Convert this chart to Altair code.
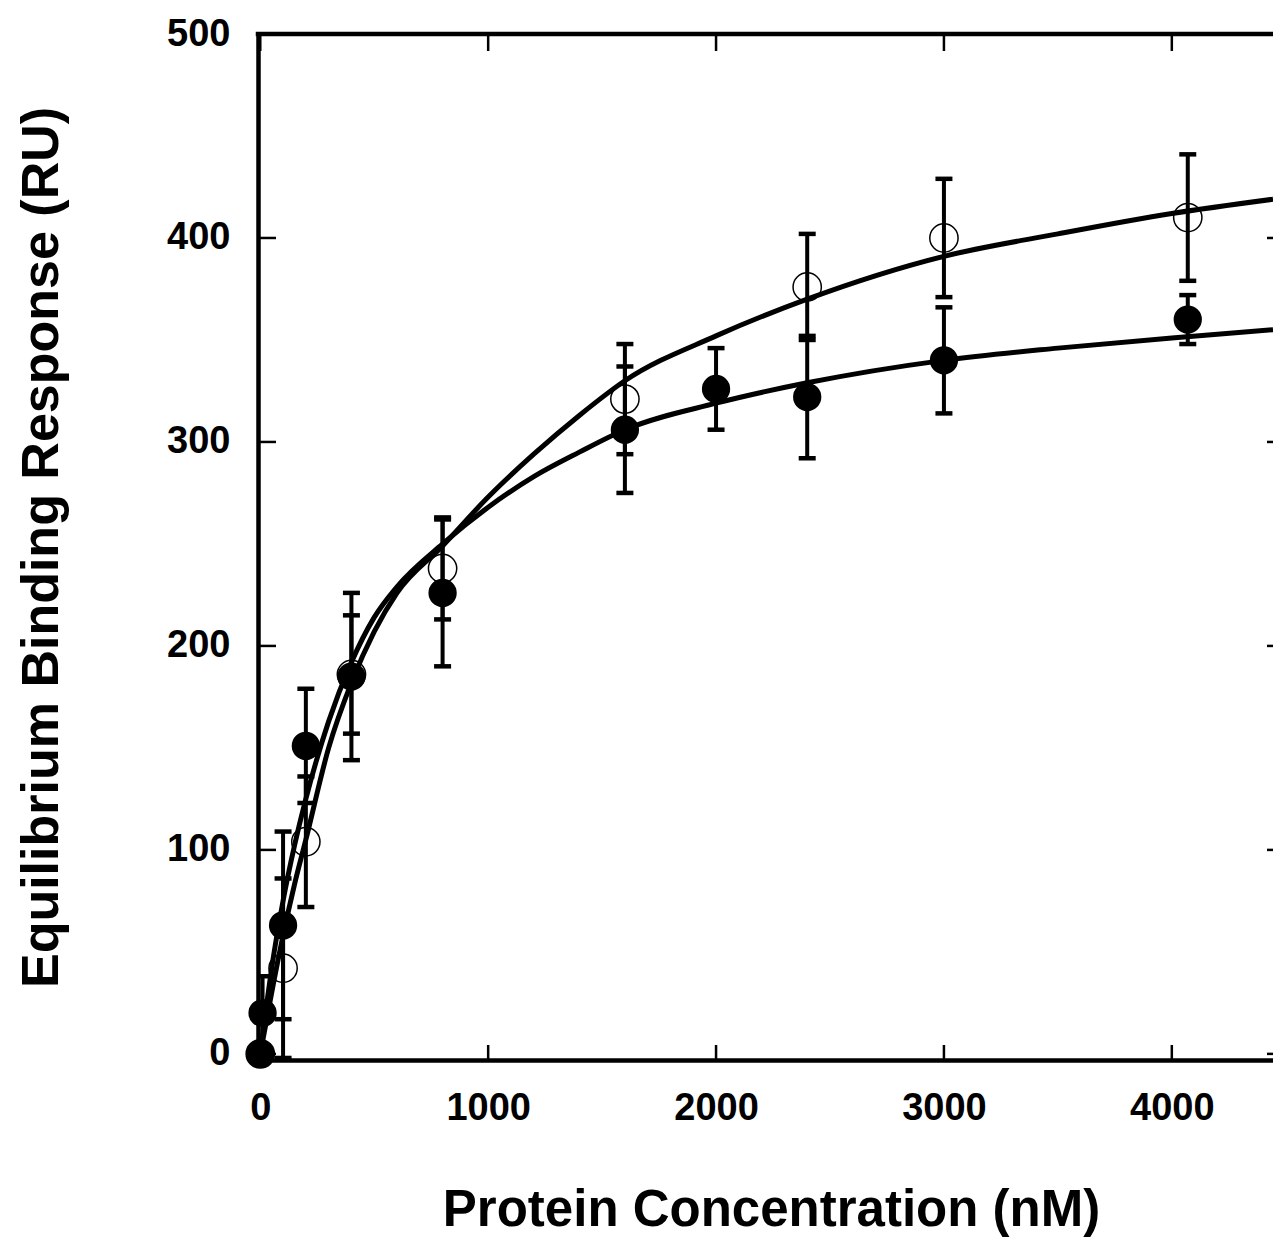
import altair as alt
import pandas as pd

# ---- data ----
# filled circles (series 1)
f_x = [0, 10, 100, 200, 400, 800, 1600, 2000, 2400, 3000, 4070]
f_y = [0, 20, 63, 151, 185, 226, 306, 326, 322, 340, 360]
f_e = [0, 18, 46, 28, 41, 36, 31, 20, 30, 26, 12]

# open circles (series 2)
o_x = [0, 100, 200, 400, 800, 1600, 2400, 3000, 4070]
o_y = [0, 42, 104, 186, 238, 321, 376, 400, 410]
o_e = [0, 44, 32, 29, 25, 27, 26, 29, 31]

# fitted curves
c_x = [0, 25, 50, 100, 150, 200, 300, 400, 500, 600, 800, 1000, 1200, 1400,
       1600, 2000, 2400, 3000, 3500, 4000, 4444]
c_filled = [0, 22, 42, 75, 102, 125, 163, 192, 214, 229, 250, 268, 283, 295,
            306, 319, 329, 340, 346, 351, 355]
c_open = [0, 15, 30, 58, 83, 105, 150, 182, 207, 226, 249, 273, 294, 313,
          330, 352, 370, 391, 402, 412, 419]

x_ticks = [0, 1000, 2000, 3000, 4000]
y_ticks = [0, 100, 200, 300, 400, 500]

X_TITLE = "Protein Concentration (nM)"
Y_TITLE = "Equilibrium Binding Response (RU)"

W, H = 1015, 1026
FONT = "Liberation Sans"

# ---- tables ----
pts = pd.DataFrame(
    {"x": f_x + o_x,
     "y": f_y + o_y,
     "e": f_e + o_e,
     "s": ["filled"] * len(f_x) + ["open"] * len(o_x)}
)
pts["lo"] = pts["y"] - pts["e"]
pts["hi"] = pts["y"] + pts["e"]
errs = pts[pts["e"] > 0]
caps = pd.concat([
    errs[["x", "lo"]].rename(columns={"lo": "y"}),
    errs[["x", "hi"]].rename(columns={"hi": "y"}),
])
curves = pd.DataFrame(
    {"x": c_x * 2, "y": c_filled + c_open,
     "s": ["filled"] * len(c_x) + ["open"] * len(c_x)}
)
xt = pd.DataFrame({"x": x_ticks})
yt = pd.DataFrame({"y": y_ticks})

xscale = alt.Scale(domain=[-10, 4444], nice=False, zero=False)
yscale = alt.Scale(domain=[-3, 500], nice=False, zero=False)

xaxis = alt.Axis(
    values=x_ticks, format="d", ticks=False, grid=False,
    domain=True, domainWidth=4.5, domainColor="black", domainCap="square",
    labelFont=FONT, labelFontSize=38, labelFontWeight="bold", labelColor="black",
    labelPadding=29, labelBaseline="top",
    titleFont=FONT, titleFontSize=51, titleFontWeight="bold", titleColor="black",
    titleY=165, titleX=513, titleBaseline="alphabetic",
)
yaxis = alt.Axis(
    values=y_ticks, format="d", ticks=False, grid=False,
    domain=True, domainWidth=4.5, domainColor="black", domainCap="square",
    labelFont=FONT, labelFontSize=38, labelFontWeight="bold", labelColor="black",
    labelPadding=28, labelBaseline="middle",
    titleFont=FONT, titleFontSize=52, titleFontWeight="bold", titleColor="black",
    titleAngle=270, titleX=-201, titleY=H / 2, titleBaseline="alphabetic",
    titleAlign="center",
)


def X(field="x"):
    return alt.X(f"{field}:Q", scale=xscale, axis=xaxis, title=X_TITLE)


def Y(field="y"):
    return alt.Y(f"{field}:Q", scale=yscale, axis=yaxis, title=Y_TITLE)


lines = alt.Chart(curves).mark_line(
    color="black", strokeWidth=5, interpolate="monotone", clip=True
).encode(x=X(), y=Y(), detail="s:N")

bars = alt.Chart(errs).mark_rule(color="black", strokeWidth=4, opacity=1, clip=True).encode(
    x=X(), y=Y("lo"), y2="hi:Q"
)

capm = alt.Chart(caps).mark_tick(
    color="black", orient="horizontal", size=17, thickness=4.5, opacity=1, clip=True
).encode(x=X(), y=Y())

open_pts = alt.Chart(pts[pts["s"] == "open"]).mark_point(
    shape="circle", filled=False, color="black", strokeWidth=1.5, size=800, opacity=1
).encode(x=X(), y=Y())

filled_pts = alt.Chart(pts[pts["s"] == "filled"]).mark_point(
    shape="circle", filled=True, color="black", opacity=1, size=800
).encode(x=X(), y=Y())

# inward tick marks
left_ticks = alt.Chart(yt).mark_rule(color="black", strokeWidth=2.5).encode(
    y=Y(), x=alt.value(0), x2=alt.value(18)
)
right_ticks = alt.Chart(yt).mark_rule(color="black", strokeWidth=2.5).encode(
    y=Y(), x=alt.value(W - 6), x2=alt.value(W)
)
top_ticks = alt.Chart(xt).mark_rule(color="black", strokeWidth=2.5).encode(
    x=X(), y=alt.value(0), y2=alt.value(17)
)
bottom_ticks = alt.Chart(xt).mark_rule(color="black", strokeWidth=2.5).encode(
    x=X(), y=alt.value(H - 15), y2=alt.value(H)
)
top_frame = alt.Chart(pd.DataFrame({"a": [0]})).mark_rule(
    color="black", strokeWidth=4.5, strokeCap="square"
).encode(x=alt.value(0), x2=alt.value(W), y=alt.value(0))

chart = alt.layer(
    lines, bars, capm, open_pts, filled_pts,
    left_ticks, right_ticks, top_ticks, bottom_ticks, top_frame,
).properties(
    width=W, height=H,
    autosize=alt.AutoSizeParams(type="none"),
    padding={"left": 250, "top": 26, "right": 0, "bottom": 181},
).configure_view(stroke=None).configure(background="white")

chart.save("out.html", embed_options={"renderer": "svg", "actions": False})
